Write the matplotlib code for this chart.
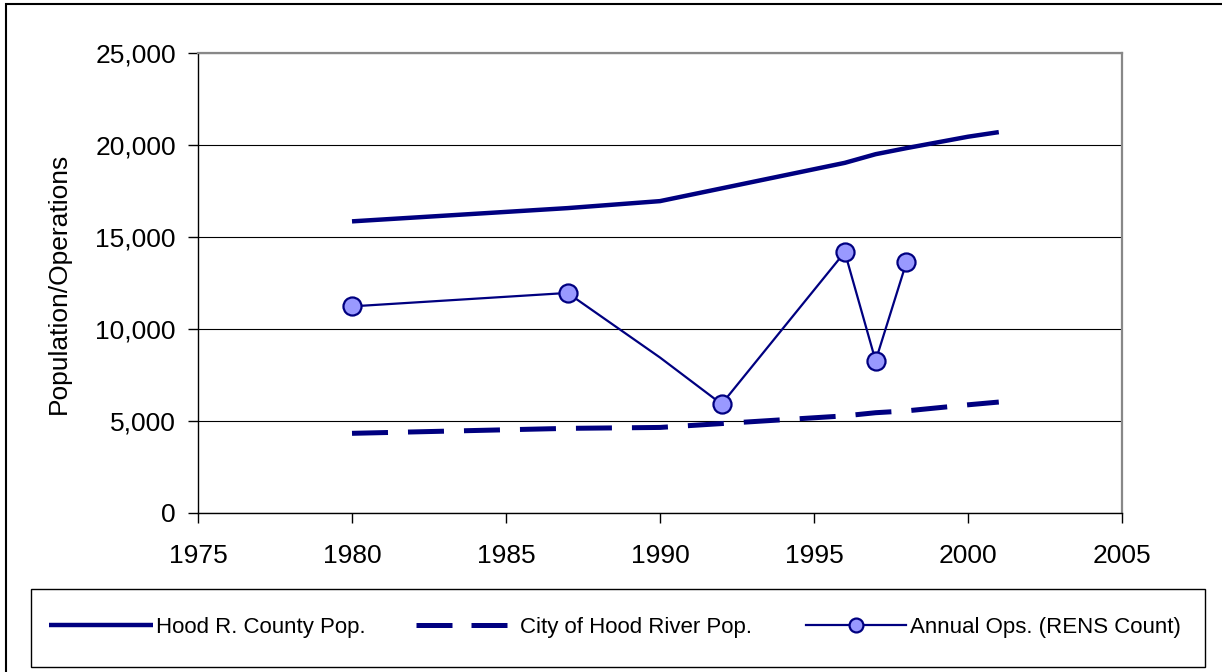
import matplotlib
matplotlib.use("Agg")
import matplotlib.pyplot as plt
from matplotlib.patches import Rectangle
from matplotlib.lines import Line2D

plt.rcParams['font.family'] = ['Liberation Sans', 'DejaVu Sans']

# Data
county_years = [1980, 1987, 1990, 1996, 1997, 1998, 2000, 2001]
county_pop = [15850, 16570, 16950, 19030, 19500, 19830, 20450, 20700]

city_years = [1980, 1987, 1990, 1996, 1997, 1998, 2000, 2001]
city_pop = [4330, 4600, 4650, 5280, 5450, 5550, 5880, 6030]

ops_years = [1980, 1987, 1990, 1992, 1996, 1997, 1998]
ops_count = [11230, 11960, 8450, 5920, 14180, 8270, 13620]
ops_marked = [0, 1, 3, 4, 5, 6]

labels = ["Hood R. County Pop.", "City of Hood River Pop.", "Annual Ops. (RENS Count)"]
navy = "#000080"
marker_face = "#9999FF"

fig = plt.figure(figsize=(12.22, 6.72), dpi=100)
W, H = 1222, 672
ax = fig.add_axes([198 / W, 1 - 513 / H, (1122 - 198) / W, (513 - 53) / H])

l1, = ax.plot(county_years, county_pop, color=navy, lw=3.2, solid_capstyle='butt', zorder=3)
l2, = ax.plot(city_years, city_pop, color=navy, lw=3.6, zorder=3)
l2.set_dashes((7.2, 4.0))
l2.set_dash_capstyle('butt')
l3, = ax.plot(ops_years, ops_count, color=navy, lw=1.6, marker='o', markevery=ops_marked,
              markersize=13, markerfacecolor=marker_face, markeredgecolor=navy,
              markeredgewidth=1.6, zorder=4)

ax.set_xlim(1975, 2005)
ax.set_ylim(0, 25000)
ax.set_xticks(range(1975, 2006, 5))
ax.set_yticks(range(0, 25001, 5000))
ax.set_yticklabels([f"{v:,}" for v in range(0, 25001, 5000)])
ax.tick_params(axis='both', direction='out', length=7, width=1, color='black', labelsize=19)
ax.tick_params(axis='y', pad=9)
ax.tick_params(axis='x', pad=15)
ax.yaxis.grid(True, color='black', lw=0.8)
ax.set_axisbelow(True)
for s in ['top', 'right']:
    ax.spines[s].set_color('#888888')
    ax.spines[s].set_linewidth(1.6)
for s in ['left', 'bottom']:
    ax.spines[s].set_color('black')
    ax.spines[s].set_linewidth(1.0)

ax.set_ylabel("Population/Operations", fontsize=19)
ax.yaxis.set_label_coords(-0.138, 0.5)

# Legend box
fig.add_artist(Rectangle((31 / W, 1 - 667 / H), (1205 - 31) / W, (667 - 589) / H,
                         transform=fig.transFigure, fill=False, lw=1.0, edgecolor='black'))

h1 = Line2D([], [], color=navy, lw=3.2, solid_capstyle='butt')
h2 = Line2D([], [], color=navy, lw=3.6, dashes=(7.2, 3.8), dash_capstyle='butt')
h3 = Line2D([], [], color=navy, lw=1.6, marker='o', markersize=10,
            markerfacecolor=marker_face, markeredgecolor=navy, markeredgewidth=1.6)
handles = [h1, h2, h3]
starts = [49, 416, 806]
hlens = [4.7, 4.1, 4.5]
hpads = [0.1, 0.59, 0.2]
y_leg = 1 - 627 / H
for h, lab, xs, hl, hp in zip(handles, labels, starts, hlens, hpads):
    fig.legend([h], [lab], loc='center left', bbox_to_anchor=(xs / W, y_leg),
               fontsize=16, handlelength=hl, handletextpad=hp, borderpad=0,
               borderaxespad=0, frameon=False)

fig.add_artist(Rectangle((6 / W, -0.1), 1.2, (1 - 4 / H) + 0.1, transform=fig.transFigure,
                         fill=False, lw=1.5, edgecolor='black'))

fig.savefig("out.png", dpi=100)
